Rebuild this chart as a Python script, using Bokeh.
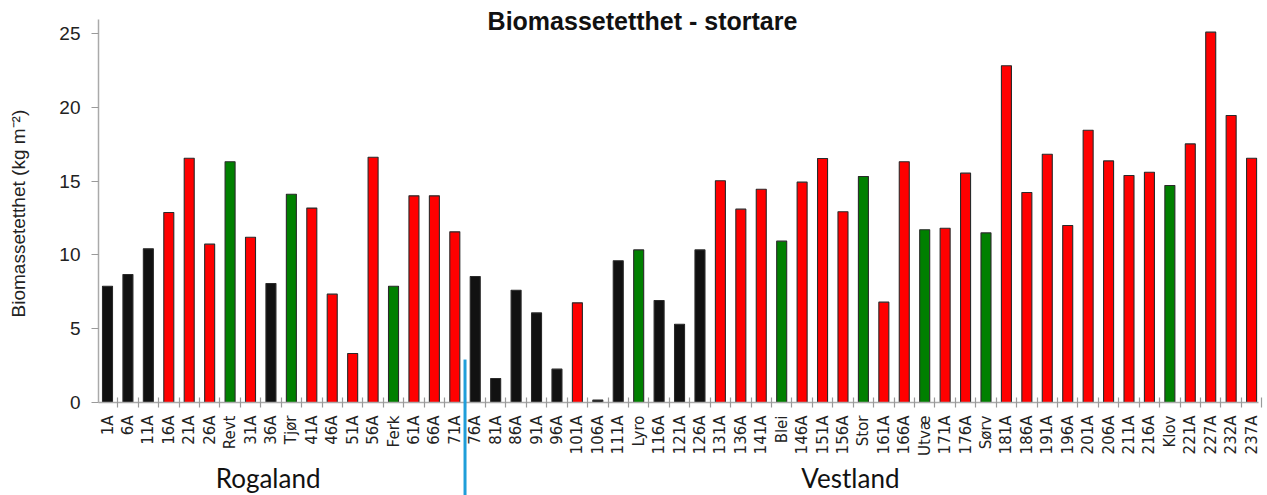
import math
from bokeh.plotting import figure
from bokeh.models import FixedTicker, Label, Arrow, Range1d, ColumnDataSource
from bokeh.embed import file_html
from bokeh.resources import INLINE

# ---------------- data ----------------
stations = ["1A", "6A", "11A", "16A", "21A", "26A", "Revt", "31A", "36A", "Tjør",
            "41A", "46A", "51A", "56A", "Ferk", "61A", "66A", "71A", "76A", "81A",
            "86A", "91A", "96A", "101A", "106A", "111A", "Lyro", "116A", "121A", "126A",
            "131A", "136A", "141A", "Blei", "146A", "151A", "156A", "Stor", "161A", "166A",
            "Utvæ", "171A", "176A", "Sørv", "181A", "186A", "191A", "196A", "201A", "206A",
            "211A", "216A", "Klov", "221A", "227A", "232A", "237A"]

biomasse = [7.88, 8.67, 10.41, 12.87, 16.55, 10.73, 16.31, 11.20, 8.06, 14.11,
            13.17, 7.34, 3.32, 16.62, 7.88, 14.00, 14.00, 11.56, 8.54, 1.63,
            7.61, 6.07, 2.26, 6.75, 0.16, 9.60, 10.34, 6.91, 5.30, 10.34,
            15.02, 13.10, 14.45, 10.93, 14.93, 16.53, 12.92, 15.31, 6.80, 16.31,
            11.70, 11.81, 15.54, 11.49, 22.81, 14.23, 16.82, 11.99, 18.45, 16.37,
            15.38, 15.60, 14.70, 17.52, 25.09, 19.44, 16.55]

# S = black, R = red, G = green
klasse = ["S", "S", "S", "R", "R", "R", "G", "R", "S", "G",
          "R", "R", "R", "R", "G", "R", "R", "R", "S", "S",
          "S", "S", "S", "R", "S", "S", "G", "S", "S", "S",
          "R", "R", "R", "G", "R", "R", "R", "G", "R", "R",
          "G", "R", "R", "G", "R", "R", "R", "R", "R", "R",
          "R", "R", "G", "R", "R", "R", "R"]

region = ["Rogaland"] * 18 + ["Vestland"] * 39

y_ticks = [0, 5, 10, 15, 20, 25]
title_text = "Biomassetetthet - stortare"
y_label = "Biomassetetthet  (kg m\u207b\u00b2)"

# ---------------- layout / styling ----------------
farger = {"S": "#111111", "R": "#ff0000", "G": "#008000"}
n = len(stations)
xs = list(range(n))

W, H = 1267, 495
# pixel geometry of the plot area inside the canvas
ax_left_px, ax_right_px = 98, 1258     # y-axis line, right end of x-axis
zero_px, top_px = 402, 19              # y = 0 and top of y-axis (from canvas top)
first_bar_px = 107
px_x = 20.43
px_y = 14.76

x_start = -first_bar_px / px_x
x_end = x_start + W / px_x
y_end = zero_px / px_y
y_start = y_end - H / px_y

ax_x0 = (ax_left_px - first_bar_px) / px_x
ax_x1 = (ax_right_px - first_bar_px) / px_x
ax_ytop = (zero_px - top_px) / px_y

src = ColumnDataSource(dict(x=xs, top=biomasse, name=stations,
                            color=[farger[k] for k in klasse]))

p = figure(width=W, height=H, x_range=Range1d(x_start, x_end),
           y_range=Range1d(y_start, y_end),
           output_backend="svg", toolbar_location=None,
           min_border_left=0, min_border_right=0,
           min_border_top=0, min_border_bottom=0,
           background_fill_color="white", border_fill_color="white")
p.outline_line_color = None
p.xgrid.visible = False
p.ygrid.visible = False

p.vbar(x="x", top="top", width=0.49, bottom=0, source=src,
       fill_color="color", line_color="#2a2a2a", line_width=1.1)

# x axis (placed at y = 0)
xa = p.xaxis[0]
xa.fixed_location = 0
xa.bounds = (ax_x0, ax_x1)
xa.ticker = FixedTicker(ticks=xs, minor_ticks=[i - 0.5 for i in range(1, n + 1)])
xa.major_label_overrides = {i: s for i, s in enumerate(stations)}
xa.major_label_orientation = math.pi / 2
xa.major_tick_in = 0
xa.major_tick_out = 0
xa.minor_tick_in = 5
xa.minor_tick_out = 5
xa.minor_tick_line_color = "#9a9a9a"
xa.minor_tick_line_width = 1.2
xa.axis_line_color = "#aaaaaa"
xa.axis_line_width = 1.5
xa.major_label_standoff = 8
xa.major_label_text_font = "DejaVu Sans"
xa.major_label_text_font_size = "15px"
xa.major_label_text_color = "#222222"

# y axis (placed at the left end of the x axis)
ya = p.yaxis[0]
ya.fixed_location = ax_x0
ya.bounds = (0, ax_ytop)
ya.ticker = FixedTicker(ticks=y_ticks)
ya.major_tick_in = 0
ya.major_tick_out = 7
ya.major_tick_line_color = "#9a9a9a"
ya.axis_line_color = "#aaaaaa"
ya.axis_line_width = 1.5
ya.major_label_standoff = 11
ya.major_label_text_font = "Liberation Sans"
ya.major_label_text_font_size = "19px"
ya.major_label_text_color = "#222222"
ya.axis_label = y_label
ya.axis_label_text_font = "Liberation Sans"
ya.axis_label_text_font_size = "19px"
ya.axis_label_text_font_style = "normal"
ya.axis_label_text_color = "#222222"
ya.axis_label_standoff = 27

# title
p.add_layout(Label(x=(642 - first_bar_px) / px_x, y=(zero_px - 20) / px_y,
                   text=title_text,
                   text_font="Liberation Sans", text_font_size="25px",
                   text_font_style="bold", text_color="#111111",
                   text_align="center", text_baseline="middle"))

# region labels
for reg in ["Rogaland", "Vestland"]:
    idx = [i for i, r in enumerate(region) if r == reg]
    cx = sum(idx) / len(idx)
    p.add_layout(Label(x=cx, y=-75.0 / px_y, x_offset=-13, text=reg,
                       text_font="Lato", text_font_size="26px",
                       text_color="#111111", text_align="center",
                       text_baseline="middle"))

# separator line between regions
grense = max(i for i, r in enumerate(region) if r == "Rogaland") + 0.5
p.add_layout(Arrow(end=None, x_start=grense, y_start=2.91, x_end=grense,
                   y_end=y_start, line_color="#1f9ed9", line_width=3))

open("out.html", "w").write(file_html(p, INLINE))
